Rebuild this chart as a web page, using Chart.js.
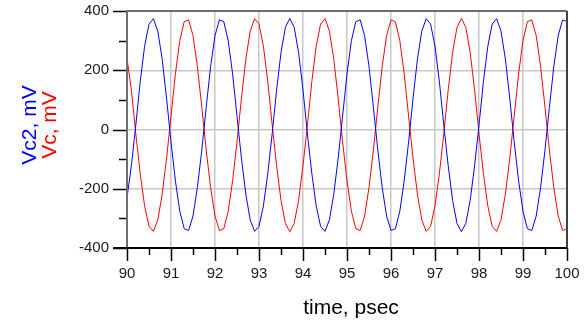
<!DOCTYPE html>
<html>
<head>
<meta charset="utf-8">
<script src="https://cdn.jsdelivr.net/npm/chart.js@4/dist/chart.umd.min.js"></script>
<style>
  html, body { margin: 0; padding: 0; background: #fff; }
  #wrap { position: relative; width: 586px; height: 321px; }
</style>
</head>
<body>
<div id="wrap"><canvas id="chart"></canvas></div>
<script>
// time samples, psec
const timePs = [
  90.0, 90.1, 90.2, 90.3, 90.4, 90.5, 90.6, 90.7, 90.8, 90.9,
  91.0, 91.1, 91.2, 91.3, 91.4, 91.5, 91.6, 91.7, 91.8, 91.9,
  92.0, 92.1, 92.2, 92.3, 92.4, 92.5, 92.6, 92.7, 92.8, 92.9,
  93.0, 93.1, 93.2, 93.3, 93.4, 93.5, 93.6, 93.7, 93.8, 93.9,
  94.0, 94.1, 94.2, 94.3, 94.4, 94.5, 94.6, 94.7, 94.8, 94.9,
  95.0, 95.1, 95.2, 95.3, 95.4, 95.5, 95.6, 95.7, 95.8, 95.9,
  96.0, 96.1, 96.2, 96.3, 96.4, 96.5, 96.6, 96.7, 96.8, 96.9,
  97.0, 97.1, 97.2, 97.3, 97.4, 97.5, 97.6, 97.7, 97.8, 97.9,
  98.0, 98.1, 98.2, 98.3, 98.4, 98.5, 98.6, 98.7, 98.8, 98.9,
  99.0, 99.1, 99.2, 99.3, 99.4, 99.5, 99.6, 99.7, 99.8, 99.9,
  100.0
]

// Vc2, mV (blue)
const vc2 = [
  -230, -122, 15, 161, 281, 356, 374, 332, 237, 104,
  -42, -173, -276, -335, -341, -292, -196, -69, 75, 213,
  317, 370, 364, 300, 188, 45, -96, -218, -305, -344,
  -327, -258, -148, -14, 133, 260, 345, 375, 345, 260,
  133, -14, -148, -258, -327, -344, -305, -218, -96, 45,
  188, 300, 364, 370, 317, 213, 75, -69, -196, -292,
  -341, -335, -276, -173, -42, 104, 237, 332, 374, 356,
  281, 161, 15, -122, -239, -317, -345, -317, -239, -122,
  15, 161, 281, 356, 374, 332, 237, 104, -42, -173,
  -276, -335, -341, -292, -196, -69, 75, 213, 317, 370,
  364
]

// Vc, mV (red)
const vc = [
  240, 133, -14, -148, -258, -327, -344, -305, -218, -96,
  45, 188, 300, 364, 370, 317, 213, 75, -69, -196,
  -292, -341, -335, -276, -173, -42, 104, 237, 332, 374,
  356, 281, 161, 15, -122, -239, -317, -345, -317, -239,
  -122, 15, 161, 281, 356, 374, 332, 237, 104, -42,
  -173, -276, -335, -341, -292, -196, -69, 75, 213, 317,
  370, 364, 300, 188, 45, -96, -218, -305, -344, -327,
  -258, -148, -14, 133, 260, 345, 375, 345, 260, 133,
  -14, -148, -258, -327, -344, -305, -218, -96, 45, 188,
  300, 364, 370, 317, 213, 75, -69, -196, -292, -341,
  -335
]

const yTickMarks = [-400, -300, -200, -100, 0, 100, 200, 300, 400]
const xTickMarks = [90, 90.5, 91, 91.5, 92, 92.5, 93, 93.5, 94, 94.5, 95, 95.5, 96, 96.5, 97, 97.5, 98, 98.5, 99, 99.5, 100]

const FONT = "'Liberation Sans', Arial, sans-serif"

// frame, tick marks and axis titles
const axisExtras = {
  id: "axisExtras",
  afterDraw(chart) {
    const { ctx, chartArea: a, scales: { x, y } } = chart
    ctx.save()

    ctx.strokeStyle = "#000"
    ctx.lineWidth = 1.5
    yTickMarks.forEach(v => {
      const py = Math.round(y.getPixelForValue(v)) + 0.5
      const len = v % 200 === 0 ? 14 : 8
      ctx.beginPath(); ctx.moveTo(a.left - len, py); ctx.lineTo(a.left, py); ctx.stroke()
    })
    xTickMarks.forEach(v => {
      const px = Math.round(x.getPixelForValue(v)) + 0.5
      const len = Number.isInteger(v) ? 13 : 7
      ctx.beginPath(); ctx.moveTo(px, a.bottom); ctx.lineTo(px, a.bottom + len); ctx.stroke()
    })

    ctx.lineWidth = 2
    ctx.strokeStyle = "#6e6e6e"
    ctx.beginPath(); ctx.moveTo(a.left, a.bottom); ctx.lineTo(a.left, a.top); ctx.lineTo(a.right, a.top); ctx.stroke()
    ctx.strokeStyle = "#404040"
    ctx.beginPath(); ctx.moveTo(a.right, a.top); ctx.lineTo(a.right, a.bottom); ctx.stroke()
    ctx.strokeStyle = "#000"
    ctx.beginPath(); ctx.moveTo(a.left - 14, a.bottom); ctx.lineTo(a.right, a.bottom); ctx.stroke()

    ctx.font = "21px " + FONT
    ctx.textAlign = "center"
    ctx.textBaseline = "middle"
    ctx.fillStyle = "#000"
    ctx.fillText("time, psec", 351, 308)

    ctx.translate(30, 125)
    ctx.rotate(-Math.PI / 2)
    ctx.fillStyle = "#0000ff"
    ctx.fillText("Vc2, mV", 0, 0)
    ctx.fillStyle = "#ff0000"
    ctx.fillText("Vc, mV", 0, 20)
    ctx.restore()
  }
}

const toPoints = vals => vals.map((v, i) => ({ x: timePs[i], y: v }))

new Chart(document.getElementById("chart"), {
  type: "line",
  data: {
    datasets: [
      { label: "Vc2", data: toPoints(vc2), borderColor: "#0000ff", borderWidth: 1, pointRadius: 0, tension: 0 },
      { label: "Vc", data: toPoints(vc), borderColor: "#ff0000", borderWidth: 1, pointRadius: 0, tension: 0 }
    ]
  },
  options: {
    responsive: true,
    maintainAspectRatio: false,
    animation: false,
    layout: { padding: { top: 11, right: 19, left: 0, bottom: 0 } },
    plugins: { legend: { display: false }, tooltip: { enabled: false } },
    scales: {
      x: {
        type: "linear",
        min: 90,
        max: 100,
        afterFit: s => { s.height = 73; s.paddingLeft = 0; s.paddingRight = 0 },
        border: { display: false },
        grid: { color: "#c8c8c8", lineWidth: 1.5, drawTicks: false },
        ticks: { stepSize: 1, padding: 17, color: "#1a1a1a", font: { family: FONT, size: 15 }, maxRotation: 0 }
      },
      y: {
        min: -400,
        max: 400,
        afterFit: s => { s.width = 127; s.paddingTop = 0; s.paddingBottom = 0 },
        border: { display: false },
        grid: { color: "#c8c8c8", lineWidth: 1.5, drawTicks: false },
        ticks: { stepSize: 200, padding: 18, color: "#1a1a1a", font: { family: FONT, size: 15 } }
      }
    }
  },
  plugins: [axisExtras]
})
</script>
</body>
</html>
